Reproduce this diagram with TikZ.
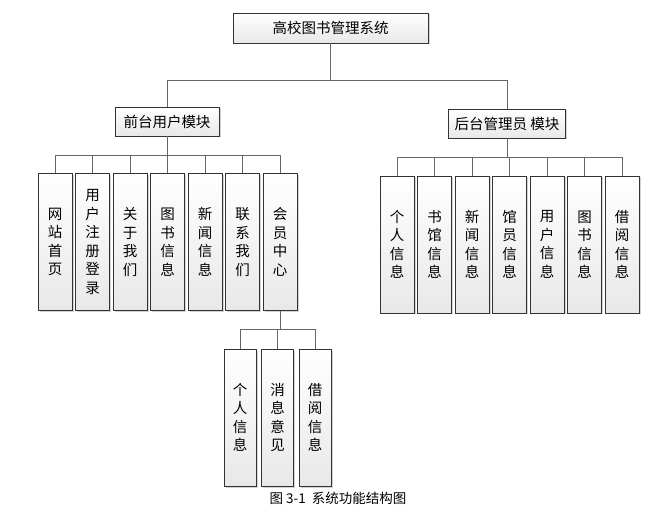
\documentclass[tikz,border=0pt]{standalone}
\usepackage{fontspec}
\newfontfamily\cjk{Noto Sans CJK SC}
\usetikzlibrary{shadows}

\begin{document}
\begin{tikzpicture}[x=1pt, y=-1pt,
    line/.style={draw=gray!80!black, line width=0.8pt},
    box/.style={draw=gray!40!black, line width=0.7pt, top color=white, bottom color=gray!18,
        drop shadow={shadow xshift=1.5pt, shadow yshift=-1.5pt, opacity=0.35},
        font=\cjk\fontsize{14.5}{14.5}\selectfont, inner sep=0pt, minimum height=29pt},
    vbox/.style={box, minimum width=34pt, minimum height=137pt, align=center,
        font=\cjk\fontsize{14.5}{18.5}\selectfont}]
    \useasboundingbox (0,0) rectangle (665,516);

    % 顶层
    \node[box, minimum width=195pt, minimum height=30pt] (sys) at (330.5,28) {高校图书管理系统};
    \node[box, minimum width=104pt] (front) at (167,121.5) {前台用户模块};
    \node[box, minimum width=117pt] (back) at (507,123.5) {后台管理员 模块};
    \draw[line] (sys.south) -- ++(0,37) -| (front.north);
    \draw[line] (sys.south) -- ++(0,37) -| (back.north);

    % 前台用户模块
    \foreach \t [count=\i] in {{网\\站\\首\\页}, {用\\户\\注\\册\\登\\录}, {关\\于\\我\\们},
        {图\\书\\信\\息}, {新\\闻\\信\\息}, {联\\系\\我\\们}, {会\\员\\中\\心}} {
        \node[vbox] (f\i) at ({55+37.5*(\i-1)},242) {\t};
        \draw[line] (front.south) -- ++(0,19) -| (f\i.north);
    }

    % 后台管理员模块
    \foreach \t [count=\i] in {{个\\人\\信\\息}, {书\\馆\\信\\息}, {新\\闻\\信\\息},
        {馆\\员\\信\\息}, {用\\户\\信\\息}, {图\\书\\信\\息}, {借\\阅\\信\\息}} {
        \node[vbox] (b\i) at ({397+37.5*(\i-1)},244.5) {\t};
        \draw[line] (back.south) -- ++(0,19) -| (b\i.north);
    }

    % 会员中心
    \foreach \t [count=\i] in {{个\\人\\信\\息}, {消\\息\\意\\见}, {借\\阅\\信\\息}} {
        \node[vbox, minimum width=32pt] (m\i) at ({240+37.5*(\i-1)},417.5) {\t};
        \draw[line] (f7.south) -- ++(0,19) -| (m\i.north);
    }

    % 图题
    \node[font=\cjk\fontsize{13.5}{13.5}\selectfont] (cap) at (338,498) {图 3-1\ \ 系统功能结构图};
\end{tikzpicture}
\end{document}
